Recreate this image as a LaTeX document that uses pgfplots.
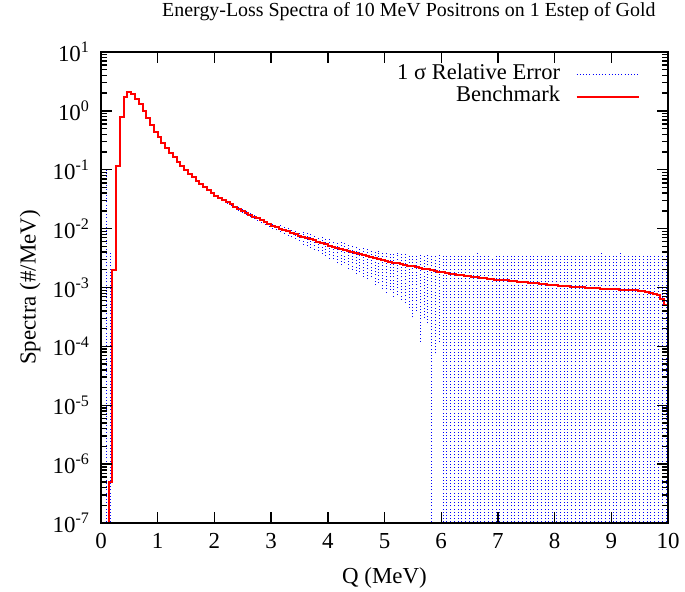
\documentclass[border=0pt]{standalone}
\usepackage{fontspec}
\setmainfont{Liberation Serif}
\usepackage{pgfplots}
\pgfplotsset{compat=1.18}
\begin{document}
\begin{tikzpicture}
\begin{axis}[
  at={(0,0)}, anchor=south west,
  scale only axis, width=283.5bp, height=235.5bp,
  xmin=0, xmax=10, ymin=1e-7, ymax=10,
  ymode=log, log basis y=10,
  unbounded coords=jump,
  axis on top,
  xtick={0,1,...,10}, minor x tick num=0,
  ytick={1e-7,1e-6,1e-5,1e-4,1e-3,1e-2,1e-1,1,10},
  extra y ticks={2e-7,3e-7,4e-7,5e-7,6e-7,7e-7,8e-7,9e-7,
               2e-6,3e-6,4e-6,5e-6,6e-6,7e-6,8e-6,9e-6,
               2e-5,3e-5,4e-5,5e-5,6e-5,7e-5,8e-5,9e-5,
               2e-4,3e-4,4e-4,5e-4,6e-4,7e-4,8e-4,9e-4,
               2e-3,3e-3,4e-3,5e-3,6e-3,7e-3,8e-3,9e-3,
               2e-2,3e-2,4e-2,5e-2,6e-2,7e-2,8e-2,9e-2,
               2e-1,3e-1,4e-1,5e-1,6e-1,7e-1,8e-1,9e-1,
               2,3,4,5,6,7,8,9},
  extra y tick labels={},
  extra y tick style={tickwidth=3bp},
  yticklabel={10\textsuperscript{\pgfmathparse{int(round(\tick))}\pgfmathresult}},
  /pgf/number format/assume math mode=true,
  tick label style={font=\fontsize{11.5}{13}\selectfont, black},
  yticklabel style={xshift=-2bp},
  xticklabel style={yshift=-1.5bp},
  label style={font=\fontsize{11.5}{13}\selectfont},
  axis line style={line width=1bp},
  tickwidth=5.5bp, subtickwidth=3bp,
  xtick style={draw=black, line width=0.7bp},
  ytick style={draw=black, line width=0.7bp},
  xlabel={Q (MeV)}, ylabel={Spectra (\#/MeV)},
  xlabel style={at={(axis description cs:0.5,0)}, anchor=base, yshift=-30bp},
  ylabel style={at={(axis description cs:-0.1252,0.5)}, anchor=center},
  title={Energy-Loss Spectra of 10 MeV Positrons on 1 Estep of Gold},
  title style={font=\fontsize{10}{12}\selectfont, at={(0.543,1)}, anchor=base, yshift=12bp},
  legend style={draw=none, fill=none, at={(0.9506,0.978)}, anchor=north east, inner sep=0pt, row sep=0bp,
    nodes={font=\fontsize{11.3}{13}\selectfont, text height=7.5bp, text depth=2.2bp, inner sep=0.8bp}},
  legend cell align=right,
  legend plot pos=right,
  legend image code/.code={\path (0bp,0bp); \draw[#1] (7bp,0bp) -- (38bp,0bp);},
]
\addplot[blue, line width=0.5bp, dash pattern=on 0.5bp off 1.1bp] table {
x y
0.1 1e-9
0.1 0.1
0.1 nan
0.1667 1e-9
0.1667 0.004
0.1667 nan
2.0333 .0348
2.0333 .0378
2.0333 nan
2.1 .0318
2.1 .0348
2.1 nan
2.1667 .0290
2.1667 .0320
2.1667 nan
2.2333 .0267
2.2333 .0295
2.2333 nan
2.3 .0244
2.3 .0272
2.3 nan
2.3667 .0222
2.3667 .0250
2.3667 nan
2.4333 .0203
2.4333 .0231
2.4333 nan
2.5 .0185
2.5 .0213
2.5 nan
2.5667 .0170
2.5667 .0198
2.5667 nan
2.6333 .0157
2.6333 .0185
2.6333 nan
2.7 .0146
2.7 .0174
2.7 nan
2.7667 .0136
2.7667 .0162
2.7667 nan
2.8333 .0126
2.8333 .0152
2.8333 nan
2.9 .0116
2.9 .0142
2.9 nan
2.9667 .0107
2.9667 .0133
2.9667 nan
3.0333 .0100
3.0333 .0124
3.0333 nan
3.1 .0093
3.1 .0119
3.1 nan
3.1667 .0087
3.1667 .0114
3.1667 nan
3.2333 .0082
3.2333 .0108
3.2333 nan
3.3 .0076
3.3 .0103
3.3 nan
3.3667 .0071
3.3667 .0099
3.3667 nan
3.4333 .0067
3.4333 .0094
3.4333 nan
3.5 .0062
3.5 .0090
3.5 nan
3.5667 .0053
3.5667 .0088
3.5667 nan
3.6333 .0050
3.6333 .0085
3.6333 nan
3.7 .0047
3.7 .0083
3.7 nan
3.7667 .0044
3.7667 .0080
3.7667 nan
3.8333 .0041
3.8333 .0076
3.8333 nan
3.9 .0037
3.9 .0074
3.9 nan
3.9667 .0034
3.9667 .0071
3.9667 nan
4.0333 .0031
4.0333 .0067
4.0333 nan
4.1 .0030
4.1 .0062
4.1 nan
4.1667 .0026
4.1667 .0060
4.1667 nan
4.2333 .0024
4.2333 .0059
4.2333 nan
4.3 .0026
4.3 .0057
4.3 nan
4.3667 .0021
4.3667 .0055
4.3667 nan
4.4333 .0020
4.4333 .0052
4.4333 nan
4.5 .0017
4.5 .0050
4.5 nan
4.5667 .0018
4.5667 .0048
4.5667 nan
4.6333 .0015
4.6333 .0047
4.6333 nan
4.7 .0014
4.7 .0045
4.7 nan
4.7667 .0015
4.7667 .0044
4.7667 nan
4.8333 .0011
4.8333 .0043
4.8333 nan
4.9 .0012
4.9 .0042
4.9 nan
4.9667 .00095
4.9667 .0041
4.9667 nan
5.0333 .00082
5.0333 .0040
5.0333 nan
5.1 .0009
5.1 .0040
5.1 nan
5.1667 .00070
5.1667 .0039
5.1667 nan
5.2333 .00075
5.2333 .0039
5.2333 nan
5.3 .00062
5.3 .0038
5.3 nan
5.3667 .00055
5.3667 .0038
5.3667 nan
5.4333 .00045
5.4333 .0037
5.4333 nan
5.5 .00031
5.5 .0037
5.5 nan
5.5667 .00040
5.5667 .0036
5.5667 nan
5.6333 .00012
5.6333 .0036
5.6333 nan
5.7 .00030
5.7 .0036
5.7 nan
5.7667 .00025
5.7667 .0036
5.7667 nan
5.8333 1e-9
5.8333 .0036
5.8333 nan
5.9 .000076
5.9 .0035
5.9 nan
5.9667 .00012
5.9667 .0036
5.9667 nan
6.0333 1e-9
6.0333 .0035
6.0333 nan
6.1 1e-9
6.1 .0034
6.1 nan
6.1667 1e-9
6.1667 .0036
6.1667 nan
6.2333 1e-9
6.2333 .0035
6.2333 nan
6.3 1e-9
6.3 .0034
6.3 nan
6.3667 1e-9
6.3667 .0035
6.3667 nan
6.4333 1e-9
6.4333 .0036
6.4333 nan
6.5 1e-9
6.5 .0034
6.5 nan
6.5667 1e-9
6.5667 .0035
6.5667 nan
6.6333 1e-9
6.6333 .0040
6.6333 nan
6.7 1e-9
6.7 .0034
6.7 nan
6.7667 1e-9
6.7667 .0036
6.7667 nan
6.8333 1e-9
6.8333 .0035
6.8333 nan
6.9 1e-9
6.9 .0033
6.9 nan
6.9667 1e-9
6.9667 .0035
6.9667 nan
7.0333 1e-9
7.0333 .0036
7.0333 nan
7.1 1e-9
7.1 .0035
7.1 nan
7.1667 1e-9
7.1667 .0034
7.1667 nan
7.2333 1e-9
7.2333 .0035
7.2333 nan
7.3 1e-9
7.3 .0036
7.3 nan
7.3667 1e-9
7.3667 .0035
7.3667 nan
7.4333 1e-9
7.4333 .0034
7.4333 nan
7.5 1e-9
7.5 .0035
7.5 nan
7.5667 1e-9
7.5667 .0035
7.5667 nan
7.6333 1e-9
7.6333 .0036
7.6333 nan
7.7 1e-9
7.7 .0035
7.7 nan
7.7667 1e-9
7.7667 .0034
7.7667 nan
7.8333 1e-9
7.8333 .0035
7.8333 nan
7.9 1e-9
7.9 .0035
7.9 nan
7.9667 1e-9
7.9667 .0034
7.9667 nan
8.0333 1e-9
8.0333 .0036
8.0333 nan
8.1 1e-9
8.1 .0035
8.1 nan
8.1667 1e-9
8.1667 .0035
8.1667 nan
8.2333 1e-9
8.2333 .0034
8.2333 nan
8.3 1e-9
8.3 .0035
8.3 nan
8.3667 1e-9
8.3667 .0036
8.3667 nan
8.4333 1e-9
8.4333 .0035
8.4333 nan
8.5 1e-9
8.5 .0035
8.5 nan
8.5667 1e-9
8.5667 .0034
8.5667 nan
8.6333 1e-9
8.6333 .0035
8.6333 nan
8.7 1e-9
8.7 .0035
8.7 nan
8.7667 1e-9
8.7667 .0036
8.7667 nan
8.8333 1e-9
8.8333 .0040
8.8333 nan
8.9 1e-9
8.9 .0035
8.9 nan
8.9667 1e-9
8.9667 .0035
8.9667 nan
9.0333 1e-9
9.0333 .0034
9.0333 nan
9.1 1e-9
9.1 .0035
9.1 nan
9.1667 1e-9
9.1667 .0040
9.1667 nan
9.2333 1e-9
9.2333 .0036
9.2333 nan
9.3 1e-9
9.3 .0035
9.3 nan
9.3667 1e-9
9.3667 .0035
9.3667 nan
9.4333 1e-9
9.4333 .0034
9.4333 nan
9.5 1e-9
9.5 .0035
9.5 nan
9.5667 1e-9
9.5667 .0036
9.5667 nan
9.6333 1e-9
9.6333 .0035
9.6333 nan
9.7 1e-9
9.7 .0035
9.7 nan
9.7667 1e-9
9.7667 .0034
9.7667 nan
9.8333 1e-9
9.8333 .0035
9.8333 nan
9.9 1e-9
9.9 .0035
9.9 nan
9.9667 1e-9
9.9667 .0035
9.9667 nan
};
\addlegendentry{1 σ Relative Error}
\addplot[red, line width=1bp, const plot mark left] table {
x y
0.0667 1e-9
0.1333 5e-7
0.2 2.0e-3
0.2667 0.117
0.3333 0.80
0.4 1.75
0.4667 2.13
0.5333 1.96
0.6 1.58
0.6667 1.30
0.7333 1.01
0.8 0.75
0.8667 0.58
0.9333 0.445
1.0 0.357
1.0667 0.289
1.1333 0.238
1.2 0.195
1.2667 0.163
1.3333 0.137
1.4 0.116
1.4667 0.099
1.5333 0.085
1.6 0.0745
1.6667 0.065
1.7333 0.057
1.8 0.050
1.8667 0.0452
1.9333 0.0405
2.0 0.0363
2.0667 0.0333
2.1333 0.0305
2.2 0.0281
2.2667 0.0258
2.3333 0.0236
2.4 0.0217
2.4667 0.0199
2.5333 0.0184
2.6 0.0171
2.6667 0.0160
2.7333 0.0149
2.8 0.0139
2.8667 0.0129
2.9333 0.0120
3.0 0.0112
3.0667 0.0106
3.1333 0.01005
3.2 0.00951
3.2667 0.00899
3.3333 0.00851
3.4 0.00805
3.4667 0.00762
3.5333 0.00730
3.6 0.00695
3.6667 0.00661
3.7333 0.00630
3.8 0.00600
3.8667 0.00571
3.9333 0.00543
4.0 0.00513
4.0667 0.00491
4.1333 0.00471
4.2 0.00451
4.2667 0.00432
4.3333 0.00414
4.4 0.00396
4.4667 0.00379
4.5333 0.00367
4.6 0.00354
4.6667 0.00341
4.7333 0.00329
4.8 0.00317
4.8667 0.00305
4.9333 0.00294
5.0 0.00282
5.0667 0.00274
5.1333 0.00265
5.2 0.00257
5.2667 0.00249
5.3333 0.00242
5.4 0.00234
5.4667 0.00228
5.5333 0.00221
5.6 0.00215
5.6667 0.00209
5.7333 0.00203
5.8 0.00198
5.8667 0.00192
5.9333 0.00187
6.0 0.00182
6.0667 0.00178
6.1333 0.00172
6.2 0.00170
6.2667 0.00164
6.3333 0.00162
6.4 0.00156
6.4667 0.00154
6.5333 0.00150
6.6 0.00149
6.6667 0.00145
6.7333 0.00145
6.8 0.00141
6.8667 0.00140
6.9333 0.00136
7.0 0.00136
7.0667 0.00132
7.1333 0.00132
7.2 0.00128
7.2667 0.00127
7.3333 0.00126
7.4 0.00122
7.4667 0.00122
7.5333 0.00120
7.6 0.00117
7.6667 0.00118
7.7333 0.00114
7.8 0.00115
7.8667 0.00112
7.9333 0.00110
8.0 0.00111
8.0667 0.00108
8.1333 0.00107
8.2 0.00107
8.2667 0.00104
8.3333 0.00104
8.4 0.00101
8.4667 0.00102
8.5333 0.00099
8.6 0.00099
8.6667 0.00097
8.7333 0.00098
8.8 0.00095
8.8667 0.00096
8.9333 0.00094
9.0 0.00093
9.0667 0.00093
9.1333 0.00091
9.2 0.00092
9.2667 0.00090
9.3333 0.00089
9.4 0.00089
9.4667 0.00087
9.5333 0.00086
9.6 0.00084
9.6667 0.00081
9.7333 0.00078
9.8 0.00074
9.8667 0.00065
9.9333 0.00050
10.0 0.00023
};
\addlegendentry{Benchmark}
\end{axis}
\pgfresetboundingbox
\path[use as bounding box] (-50.5bp,-34.5bp) rectangle (292bp,261.5bp);
\end{tikzpicture}
\end{document}
